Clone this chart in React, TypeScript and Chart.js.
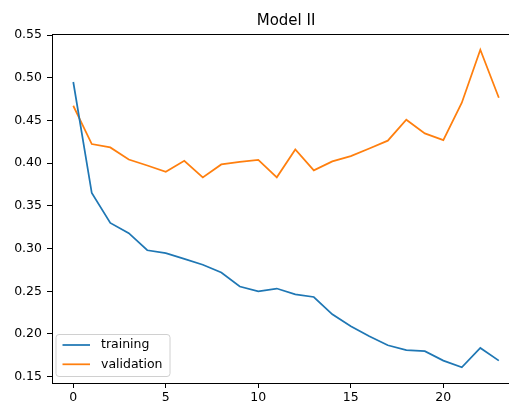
import React, { useEffect, useRef } from "react";
import { Chart, registerables } from "chart.js";

Chart.register(...registerables);

const epochs = [0, 1, 2, 3, 4, 5, 6, 7, 8, 9, 10, 11, 12, 13, 14, 15, 16, 17, 18, 19, 20, 21, 22, 23];
const training = [0.495, 0.365, 0.330, 0.318, 0.298, 0.2946, 0.288, 0.281, 0.272, 0.2555, 0.250, 0.2532, 0.2463, 0.2433, 0.223, 0.209, 0.1973, 0.1868, 0.181, 0.1798, 0.1688, 0.161, 0.1836, 0.1688];
const validation = [0.4672, 0.4224, 0.4184, 0.4042, 0.3972, 0.3898, 0.4027, 0.3832, 0.3985, 0.4015, 0.4039, 0.3834, 0.4161, 0.3915, 0.402, 0.4083, 0.4172, 0.4263, 0.4508, 0.4348, 0.427, 0.4707, 0.5328, 0.4766];
const xTicks = [0, 5, 10, 15, 20];
const yTicks = [0.15, 0.2, 0.25, 0.3, 0.35, 0.4, 0.45, 0.5, 0.55];
const seriesNames = ["training", "validation"];
const seriesColors = ["#1f77b4", "#ff7f0e"];
const title = "Model II";

const FONT = "DejaVu Sans, sans-serif";

const framePlugin = {
  id: "frameTitleLegend",
  afterDraw(chart: any) {
    const { ctx, chartArea } = chart;
    const xs = chart.scales.x;
    ctx.save();
    // top spine
    ctx.strokeStyle = "#000";
    ctx.lineWidth = 1;
    ctx.beginPath();
    ctx.moveTo(chartArea.left, chartArea.top + 0.5);
    ctx.lineTo(chartArea.right, chartArea.top + 0.5);
    ctx.stroke();
    // title
    ctx.fillStyle = "#000";
    ctx.font = `15px ${FONT}`;
    ctx.textAlign = "center";
    ctx.textBaseline = "middle";
    ctx.fillText(title, xs.getPixelForValue((xs.min + 24.15) / 2), 21);
    // legend
    const bx = chartArea.left + 4;
    const bw = 114;
    const bh = 42;
    const by = chartArea.bottom - 6.5 - bh;
    const r = 3;
    ctx.beginPath();
    ctx.moveTo(bx + r, by);
    ctx.lineTo(bx + bw - r, by);
    ctx.arcTo(bx + bw, by, bx + bw, by + r, r);
    ctx.lineTo(bx + bw, by + bh - r);
    ctx.arcTo(bx + bw, by + bh, bx + bw - r, by + bh, r);
    ctx.lineTo(bx + r, by + bh);
    ctx.arcTo(bx, by + bh, bx, by + bh - r, r);
    ctx.lineTo(bx, by + r);
    ctx.arcTo(bx, by, bx + r, by, r);
    ctx.closePath();
    ctx.fillStyle = "rgba(255,255,255,0.8)";
    ctx.fill();
    ctx.strokeStyle = "#d0d0d0";
    ctx.stroke();
    ctx.font = `12.5px ${FONT}`;
    ctx.textAlign = "left";
    seriesNames.forEach((name, i) => {
      const ly = by + 10.5 + i * 19.3;
      ctx.strokeStyle = seriesColors[i];
      ctx.lineWidth = 1.75;
      ctx.beginPath();
      ctx.moveTo(bx + 6.5, ly);
      ctx.lineTo(bx + 34, ly);
      ctx.stroke();
      ctx.fillStyle = "#000";
      ctx.fillText(name, bx + 45, ly);
    });
    ctx.restore();
  },
};

export default function App() {
  const ref = useRef<HTMLCanvasElement>(null);
  useEffect(() => {
    if (!ref.current) return;
    const chart = new Chart(ref.current, {
      type: "line",
      data: {
        datasets: [
          {
            label: seriesNames[0],
            data: epochs.map((e, i) => ({ x: e, y: training[i] })),
            borderColor: seriesColors[0],
            backgroundColor: seriesColors[0],
            borderWidth: 1.75,
            pointRadius: 0,
            tension: 0,
          },
          {
            label: seriesNames[1],
            data: epochs.map((e, i) => ({ x: e, y: validation[i] })),
            borderColor: seriesColors[1],
            backgroundColor: seriesColors[1],
            borderWidth: 1.75,
            pointRadius: 0,
            tension: 0,
          },
        ],
      },
      options: {
        responsive: false,
        animation: false,
        layout: { padding: { top: 34, right: 0, left: 0, bottom: 0 } },
        plugins: {
          legend: { display: false },
          tooltip: { enabled: false },
          title: { display: false },
        },
        scales: {
          x: {
            type: "linear",
            min: -1.15,
            max: 23.55,
            afterBuildTicks: (s: any) => {
              s.ticks = xTicks.map((v) => ({ value: v }));
            },
            afterFit: (s: any) => {
              s.height = 20;
            },
            ticks: {
              color: "#000",
              font: { family: FONT, size: 12.5 },
              padding: 2,
              maxRotation: 0,
              callback: (v: any) => String(v),
            },
            grid: {
              drawOnChartArea: false,
              drawTicks: true,
              tickLength: 5,
              tickColor: "#000",
            },
            border: { display: true, color: "#000", width: 1 },
          },
          y: {
            type: "linear",
            min: 0.1426,
            max: 0.5512,
            afterBuildTicks: (s: any) => {
              s.ticks = yTicks.map((v) => ({ value: v }));
            },
            afterFit: (s: any) => {
              s.width = 52;
            },
            ticks: {
              color: "#000",
              font: { family: FONT, size: 12.5 },
              padding: 5,
              callback: (v: any) => Number(v).toFixed(2),
            },
            grid: {
              drawOnChartArea: false,
              drawTicks: true,
              tickLength: 5,
              tickColor: "#000",
            },
            border: { display: true, color: "#000", width: 1 },
          },
        },
      },
      plugins: [framePlugin],
    });
    return () => chart.destroy();
  }, []);
  return (
    <div style={{ position: "fixed", left: 0, top: 0, width: 509, height: 403, background: "#fff" }}>
      <canvas ref={ref} width={509} height={403} />
    </div>
  );
}
